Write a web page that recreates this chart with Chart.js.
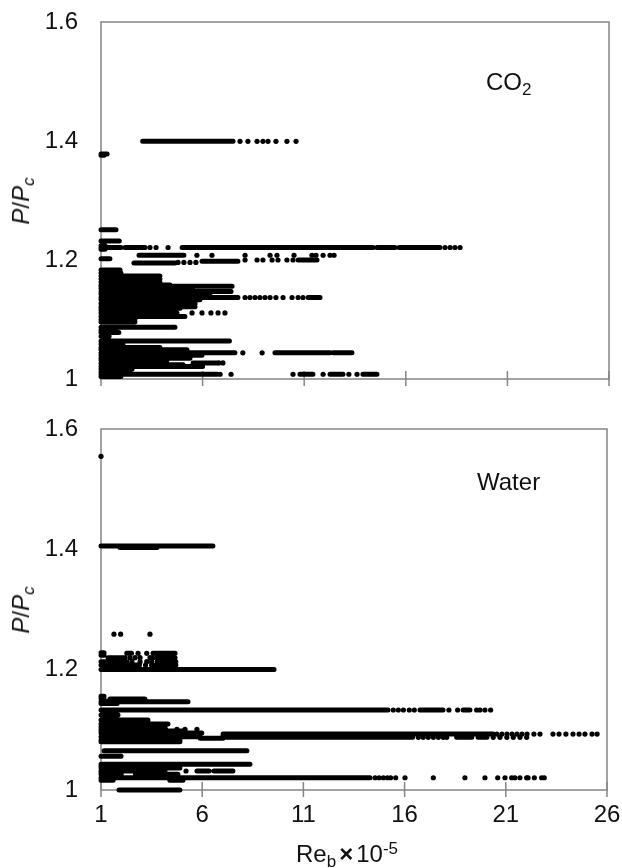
<!DOCTYPE html>
<html>
<head>
<meta charset="utf-8">
<title>P/Pc vs Reb</title>
<script src="https://cdn.jsdelivr.net/npm/chart.js@4"></script>
<style>
  html, body { margin: 0; padding: 0; background: #fff; }
  #page { position: relative; width: 622px; height: 868px; overflow: hidden; font-family: "Liberation Sans", Arial, sans-serif; color: #111; }
  canvas { position: absolute; left: 0; }
  .lbl { position: absolute; font-size: 24px; line-height: 28px; white-space: nowrap; }
  .ylbl { left: 21px; transform: translate(-50%, -50%) rotate(-90deg); }
  .lbl sub { font-size: 17px; line-height: 0; vertical-align: -5px; }
  .lbl sup { font-size: 17px; line-height: 0; vertical-align: 8px; }
  .lbl b { margin: 0 3px; }
  i { font-style: italic; }
</style>
</head>
<body>
<div id="page">
  <canvas id="co2Chart" width="622" height="400" style="top:0"></canvas>
  <canvas id="waterChart" width="622" height="458" style="top:410px"></canvas>
  <div class="lbl ylbl" style="top:201px"><i>P</i>/<i>P<sub>c</sub></i></div>
  <div class="lbl ylbl" style="top:610px"><i>P</i>/<i>P<sub>c</sub></i></div>
  <div class="lbl" style="left:486px;top:68px">CO<sub>2</sub></div>
  <div class="lbl" style="left:477px;top:468px">Water</div>
  <div class="lbl" style="left:296px;top:840px">Re<sub>b</sub><b>×</b>10<sup>-5</sup></div>
</div>

<script>
/* data: x = Re_b x 10^-5, y = P/Pc */
const xTicks = [1, 6, 11, 16, 21, 26];
const yTicks = [1, 1.2, 1.4, 1.6];

/* stretches where the markers overlap: [P/Pc, first Re, last Re] */
const co2Runs = [
  [1.3995, 3.05, 7.5],
  [1.378, 1, 1.3], [1.376, 1, 1.15],
  [1.251, 1, 1.74],
  [1.232, 1, 1.9],
  [1.221, 1, 1.98], [1.224, 1, 1.2], [1.218, 1, 1.2],
  [1.221, 2.18, 3.17], [1.221, 4.99, 14.39], [1.221, 14.58, 15.47], [1.221, 15.67, 17.68],
  [1.208, 2.87, 5.08],
  [1.202, 1, 1.44],
  [1.2, 10.7, 11.63],
  [1.195, 2.62, 4.64], [1.198, 5.97, 7.74],
  [1.183, 1, 1.94], [1.178, 1, 1.98], [1.173, 1, 3.9], [1.168, 1, 3.9], [1.163, 1, 3.9],
  [1.158, 1, 4.4], [1.156, 1, 7.45], [1.152, 1, 5.5], [1.147, 1, 7.4], [1.143, 1, 6.36],
  [1.137, 1, 7.74], [1.133, 1, 5.87], [1.127, 1, 5.63], [1.1215, 1, 5.63],
  [1.119, 1, 4.89], [1.115, 1, 2.92], [1.111, 1, 4.74], [1.105, 1, 5.13],
  [1.1, 1, 2.67], [1.096, 1, 2.67],
  [1.137, 11.19, 11.78],
  [1.087, 1, 4.64], [1.082, 1, 1.7], [1.078, 1, 1.88], [1.072, 1, 1.4],
  [1.064, 1, 7.32], [1.059, 1, 2.08], [1.053, 1, 3.9], [1.049, 1, 5.23],
  [1.044, 1, 7.59], [1.044, 9.56, 12.27], [1.044, 12.42, 13.35],
  [1.04, 1, 5.97], [1.035, 1, 5.38], [1.032, 1, 4.25], [1.026, 1, 4.25],
  [1.024, 4.4, 5.04], [1.027, 5.53, 6.7], [1.021, 1, 6], [1.017, 1, 2.53],
  [1.012, 1, 2.43], [1.008, 1, 2.48], [1.008, 2.53, 6.71],
  [1.008, 10.79, 11.43], [1.008, 12.27, 12.91], [1.008, 13.89, 14.58],
  [1.004, 1, 1.98]
];

/* markers that stand apart: [P/Pc, [Re, ...]] */
const co2Dots = [
  [1.3995, [7.84, 8.23, 8.68, 8.97, 9.22, 9.61, 10.15, 10.6]],
  [1.221, [3.41, 3.71, 4.3, 17.93, 18.18, 18.42, 18.67]],
  [1.208, [5.72, 6.46, 8.09, 9.32, 9.66, 10.5, 11.38, 11.58, 11.93, 12.27, 12.47]],
  [1.2, [8.09, 8.68, 8.97, 9.42, 9.71, 10.15, 10.45]],
  [1.196, [4.79, 5.08, 5.38, 5.67]],
  [1.137, [8.09, 8.33, 8.58, 8.82, 9.07, 9.32, 9.61, 9.96, 10.4, 10.7, 10.94]],
  [1.111, [5.48, 5.97, 6.41, 6.76, 7.1]],
  [1.044, [7.98, 8.93]],
  [1.027, [6.8, 7.0]],
  [1.008, [6.86, 7.4, 10.45, 11.93, 13.2, 13.6]]
];

const waterRuns = [
  [1.4055, 1, 6.53], [1.403, 1.94, 3.77],
  [1.228, 1, 1.15], [1.224, 1, 1.15],
  [1.2272, 2.27, 2.51], [1.2272, 3.57, 4.66],
  [1.22, 1.35, 2.19], [1.22, 3.77, 4.66],
  [1.2132, 1, 2.28], [1.2132, 3.77, 4.7],
  [1.2077, 1, 2.9], [1.2077, 3.7, 4.7],
  [1.2003, 1, 9.55],
  [1.156, 1, 1.15], [1.152, 1, 1.15], [1.1512, 1.44, 3.17],
  [1.1468, 1, 5.3], [1.1436, 1, 1.8],
  [1.133, 1, 15.18], [1.133, 16.76, 17.9], [1.133, 18.89, 19.23],
  [1.1246, 1, 1.84], [1.1163, 1, 3.32], [1.1097, 1, 4.31], [1.105, 1, 4.16],
  [1.1009, 1, 4.2], [1.098, 1, 5.15], [1.0947, 1, 5.98], [1.0886, 1, 5.9],
  [1.0859, 5.9, 7.03], [1.083, 1, 4.9], [1.0803, 1, 4.9],
  [1.093, 7.03, 20.37], [1.0905, 7.03, 15.1], [1.0876, 7.03, 16.4],
  [1.0876, 18.57, 19.32], [1.0876, 19.63, 20.07],
  [1.0653, 1.15, 8.21],
  [1.056, 1, 1.99],
  [1.0427, 1, 3], [1.0427, 2.88, 8.36],
  [1.039, 1, 4.9], [1.0366, 1, 4.9],
  [1.0316, 1, 4.16], [1.0316, 5.74, 6.34], [1.0316, 6.58, 7.52],
  [1.0288, 1, 1.6], [1.026, 1, 2], [1.026, 2.7, 4.8],
  [1.0204, 1, 14.29],
  [1.0164, 1, 1.6], [1.0164, 4.4, 5.05],
  [1, 1.89, 4.9]
];

const waterDots = [
  [1.5546, [1]],
  [1.259, [1.64, 1.97, 3.42]],
  [1.2272, [2.83, 3.26]],
  [1.22, [2.43, 2.68, 2.93, 3.42, 3.57]],
  [1.2132, [2.53, 2.93, 3.26, 3.5]],
  [1.2077, [3.2, 3.5]],
  [1.133, [15.44, 15.69, 15.94, 16.23, 16.48, 18.19, 18.62, 19.56, 19.72, 19.97, 20.25]],
  [1.1009, [4.75, 5.15, 5.74]],
  [1.093, [20.56, 20.81, 21.06, 21.31, 21.55, 21.8, 22.05, 22.39, 22.69, 23.33, 23.63, 23.97, 24.32, 24.62, 24.91, 25.26, 25.51]],
  [1.0876, [16.68, 16.92, 17.17, 17.42, 17.67, 17.91, 18.08, 20.38, 20.71, 21.05, 21.37, 21.7, 22.03]],
  [1.0316, [5.2]],
  [1.0204, [14.54, 14.74, 14.95, 15.15, 15.31, 15.56, 16.02, 17.42, 18.98, 19.97, 20.6, 20.96, 21.29, 21.45, 21.7, 22.03, 22.1, 22.41, 22.77, 22.9]]
];

const axisGray = "#858585";
const tickFont = { family: "'Liberation Sans', Arial, sans-serif", size: 24 };

/* plot frame, plus the x ticks that cross the axis. Goes under the marks. */
const framePlugin = {
  id: "frame",
  beforeDatasetsDraw(chart) {
    const { ctx, chartArea: a, scales } = chart;
    ctx.save();
    ctx.strokeStyle = axisGray;
    ctx.lineWidth = 1.5;
    ctx.strokeRect(a.left, a.top, a.width, a.height);
    ctx.beginPath();
    xTicks.forEach((v) => {
      const px = scales.x.getPixelForValue(v);
      ctx.moveTo(px, a.bottom - 8);
      ctx.lineTo(px, a.bottom + 7);
    });
    ctx.stroke();
    ctx.restore();
  },
};

function makeChart(id, runs, dots, box) {
  const runData = runs.flatMap(([p, a, b]) => [{ x: a, y: p }, { x: b, y: p }, { x: NaN, y: NaN }]);
  const dotData = dots.flatMap(([p, xs]) => xs.map((x) => ({ x: x, y: p })));

  return new Chart(document.getElementById(id), {
    type: "scatter",
    data: {
      datasets: [
        {
          data: runData,
          showLine: true,
          spanGaps: false,
          pointRadius: 0,
          borderColor: "#000",
          borderWidth: 5,
          borderCapStyle: "round",
          clip: false,
        },
        {
          data: dotData,
          pointRadius: 2.6,
          pointBorderWidth: 0,
          pointBackgroundColor: "#000",
          clip: false,
        },
      ],
    },
    plugins: [framePlugin],
    options: {
      responsive: false,
      animation: false,
      layout: { padding: { top: box.top, right: box.right } },
      plugins: { legend: { display: false }, title: { display: false }, tooltip: { enabled: false } },
      scales: {
        x: {
          type: "linear",
          min: 1,
          max: 26,
          grid: { display: false, drawTicks: false },
          border: { display: false },
          afterBuildTicks: (s) => { s.ticks = xTicks.map((v) => ({ value: v })); },
          afterFit: (s) => {
            s.height = box.below;
            s.paddingLeft = 0;
            s.paddingRight = 0;
          },
          ticks: {
            display: box.showX,
            autoSkip: false,
            maxRotation: 0,
            padding: 11,
            color: "#111",
            font: tickFont,
          },
        },
        y: {
          min: 1,
          max: 1.6,
          grid: { display: false, drawTicks: false },
          border: { display: false },
          afterBuildTicks: (s) => { s.ticks = yTicks.map((v) => ({ value: v })); },
          afterFit: (s) => {
            s.width = 101;
            s.paddingTop = 0;
            s.paddingBottom = 0;
          },
          ticks: {
            padding: 23,
            color: "#111",
            font: tickFont,
            callback: (v) => (v === 1 ? "1" : v.toFixed(1)),
          },
        },
      },
    },
  });
}

makeChart("co2Chart", co2Runs, co2Dots, { top: 22, right: 13, below: 21, showX: false });
makeChart("waterChart", waterRuns, waterDots, { top: 19, right: 15, below: 78, showX: true });
</script>
</body>
</html>
